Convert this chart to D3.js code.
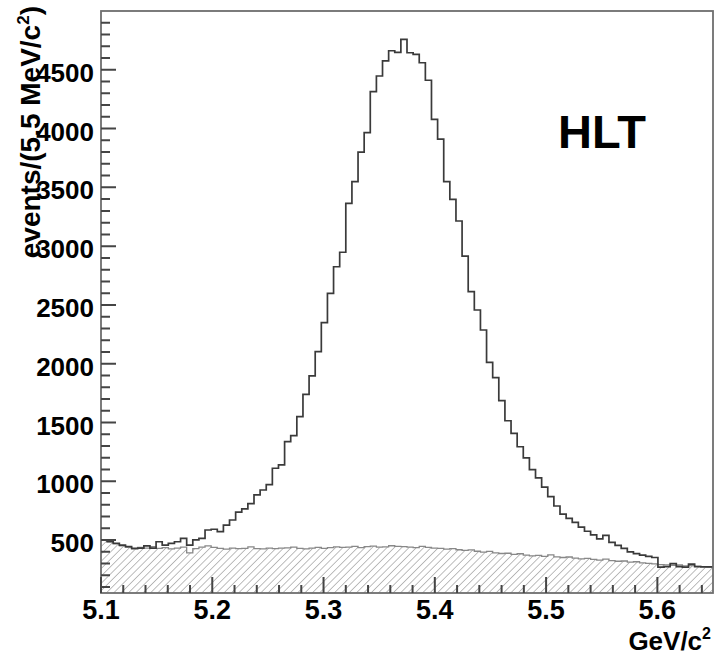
<!DOCTYPE html>
<html>
<head>
<meta charset="utf-8">
<script src="https://cdn.jsdelivr.net/npm/d3@7"></script>
<style>
  body { margin: 0; background: #fff; }
  svg text { font-family: "Liberation Sans", Arial, Helvetica, sans-serif; font-weight: bold; }
</style>
</head>
<body>
<svg id="drawing_region"></svg>
<script>
// histogram: 100 bins of 5.5 MeV from 5.1 to 5.65 GeV/c^2
const binStart = 5.1;
const binWidth = 0.0055;

// total (signal + background) counts per bin
const totalCounts = [
  501, 486, 472, 458, 444, 430, 432, 450, 432, 486,
  458, 472, 486, 515, 458, 501, 515, 586, 592, 572,
  628, 671, 738, 766, 810, 884, 926, 972, 1111, 1139,
  1337, 1388, 1550, 1740, 1896, 2103, 2349, 2599, 2825, 2948,
  3364, 3548, 3800, 3965, 4314, 4447, 4575, 4662, 4648, 4759,
  4645, 4631, 4560, 4411, 4079, 3911, 3548, 3398, 3214, 2916,
  2613, 2457, 2287, 2012, 1881, 1686, 1515, 1408, 1294, 1200,
  1100, 1030, 950, 870, 790, 720, 685, 650, 610, 575,
  545, 510, 540, 480, 455, 430, 400, 385, 372, 362,
  352, 270, 275, 300, 275, 270, 295, 275, 272, 272
];

// background (hatched) counts per bin
const bkgCounts = [
  502, 488, 470, 452, 440, 425, 438, 432, 445, 430,
  436, 425, 432, 440, 392, 428, 440, 450, 438, 430,
  424, 432, 428, 430, 442, 428, 426, 432, 428, 432,
  434, 440, 430, 426, 432, 438, 430, 436, 442, 438,
  440, 446, 436, 444, 448, 440, 442, 452, 446, 444,
  440, 436, 446, 438, 432, 430, 424, 428, 418, 412,
  416, 405, 398, 404, 392, 386, 388, 378, 384, 372,
  366, 370, 362, 374, 358, 352, 356, 346, 340, 345,
  336, 330, 338, 326, 320, 322, 312, 316, 306, 302,
  298, 292, 290, 286, 288, 280, 284, 276, 274, 270
];

const xTicks = [5.1, 5.2, 5.3, 5.4, 5.5, 5.6];
const yTicks = [500, 1000, 1500, 2000, 2500, 3000, 3500, 4000, 4500];

const width = 715, height = 656;
const margin = {top: 11, right: 2, bottom: 63, left: 101};

const svg = d3.select('#drawing_region')
  .attr('width', width)
  .attr('height', height);

const xscale = d3.scaleLinear()
  .domain([5.1, 5.65])
  .range([margin.left, width - margin.right]);

const yscale = d3.scaleLinear()
  .domain([50, 5000])
  .range([height - margin.bottom, margin.top]);

const y0 = yscale.range()[0];
const xEnd = xscale.range()[1];

// bin edges -> step points (last bin repeated to close the step)
function steps(counts) {
  const pts = counts.map((v, i) => ({x: binStart + i * binWidth, v: v}));
  pts.push({x: binStart + counts.length * binWidth, v: counts[counts.length - 1]});
  return pts;
}

// hatch pattern
const defs = svg.append('defs');
defs.append('pattern')
  .attr('id', 'hatch')
  .attr('patternUnits', 'userSpaceOnUse')
  .attr('width', 5.2)
  .attr('height', 5.2)
  .attr('patternTransform', 'rotate(45)')
  .append('line')
  .attr('x1', 0).attr('y1', 0)
  .attr('x2', 0).attr('y2', 5.2)
  .attr('stroke', '#7c7c7c')
  .attr('stroke-width', 1);

defs.append('clipPath').attr('id', 'plotclip')
  .append('rect')
  .attr('x', margin.left).attr('y', margin.top)
  .attr('width', xEnd - margin.left)
  .attr('height', y0 - margin.top);

const plot = svg.append('g').attr('clip-path', 'url(#plotclip)');

// background histogram
const area = d3.area()
  .curve(d3.curveStepAfter)
  .x(d => xscale(d.x))
  .y0(y0)
  .y1(d => yscale(d.v));

plot.append('path')
  .datum(steps(bkgCounts))
  .attr('d', area)
  .attr('fill', 'url(#hatch)');

const stepLine = d3.line()
  .curve(d3.curveStepAfter)
  .x(d => xscale(d.x))
  .y(d => yscale(d.v));

plot.append('path')
  .datum(steps(bkgCounts))
  .attr('d', stepLine)
  .attr('fill', 'none')
  .attr('stroke', '#888')
  .attr('stroke-width', 1.3);

// total histogram
plot.append('path')
  .datum(steps(totalCounts))
  .attr('d', stepLine)
  .attr('fill', 'none')
  .attr('stroke', '#3a3a3a')
  .attr('stroke-width', 1.7);

// frame
svg.append('rect')
  .attr('x', margin.left).attr('y', margin.top)
  .attr('width', xEnd - margin.left)
  .attr('height', y0 - margin.top)
  .attr('fill', 'none')
  .attr('stroke', '#6e6e6e')
  .attr('stroke-width', 1.8);

// ticks pointing inward (ROOT style), drawn as one path
const yMinor = d3.range(100, 5000, 100).filter(v => v % 500 !== 0);
const xMinor = d3.range(0, 28).map(i => 5.1 + i * 0.02).filter(v => Math.abs(v * 10 - Math.round(v * 10)) > 1e-6);

const tickPath = d3.path();
yTicks.forEach(v => { tickPath.moveTo(margin.left, yscale(v)); tickPath.lineTo(margin.left + 15, yscale(v)); });
yMinor.forEach(v => { tickPath.moveTo(margin.left, yscale(v)); tickPath.lineTo(margin.left + 9, yscale(v)); });
xTicks.forEach(v => { tickPath.moveTo(xscale(v), y0); tickPath.lineTo(xscale(v), y0 - 16); });
xMinor.forEach(v => { tickPath.moveTo(xscale(v), y0); tickPath.lineTo(xscale(v), y0 - 8); });

svg.append('path')
  .attr('d', tickPath.toString())
  .attr('fill', 'none')
  .attr('stroke', '#454545')
  .attr('stroke-width', 2);

// tick labels
svg.append('g').selectAll('text').data(yTicks).join('text')
  .attr('x', margin.left - 7)
  .attr('y', d => yscale(d) + 12)
  .attr('text-anchor', 'end')
  .attr('font-size', 26)
  .attr('fill', '#000')
  .text(d3.format('d'));

svg.append('g').selectAll('text').data(xTicks).join('text')
  .attr('x', d => xscale(d))
  .attr('y', y0 + 26)
  .attr('text-anchor', 'middle')
  .attr('font-size', 27)
  .attr('fill', '#000')
  .text(d3.format('.1f'));

// axis titles
const ytitle = svg.append('text')
  .attr('transform', 'translate(40,6) rotate(-90)')
  .attr('text-anchor', 'end')
  .attr('font-size', 28)
  .attr('fill', '#000');
ytitle.append('tspan').text('events/(5.5 MeV/c');
ytitle.append('tspan').attr('font-size', 17).attr('dy', -11).text('2');
ytitle.append('tspan').attr('dy', 11).text(')');

const xtitle = svg.append('text')
  .attr('x', 711)
  .attr('y', 650)
  .attr('text-anchor', 'end')
  .attr('font-size', 26)
  .attr('fill', '#000');
xtitle.append('tspan').text('GeV/c');
xtitle.append('tspan').attr('font-size', 16).attr('dy', -11).text('2');

// label
svg.append('text')
  .attr('x', 558)
  .attr('y', 148)
  .attr('font-size', 47)
  .attr('fill', '#000')
  .text('HLT');
</script>
</body>
</html>
